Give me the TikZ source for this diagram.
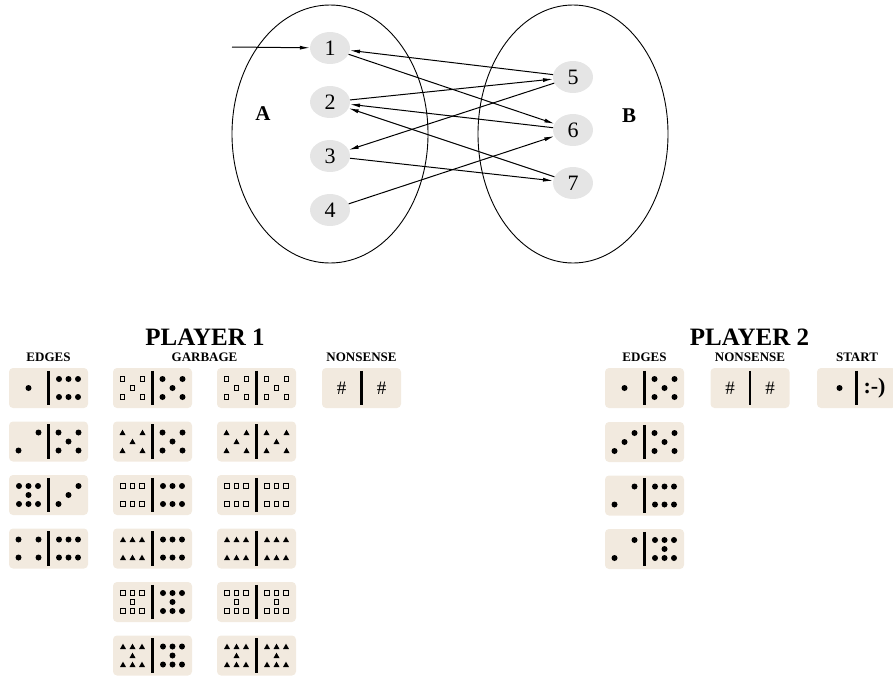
\documentclass[tikz,border=0pt]{standalone}
\usepackage{fontspec}
\setmainfont{Liberation Serif}
\usetikzlibrary{shapes.geometric,arrows.meta}

\definecolor{tilebg}{RGB}{242,234,223}
\definecolor{vertbg}{RGB}{229,229,229}

\def\patOne{0/0}
\def\patTwo{10/-9,-10/9}
\def\patThree{-10/9,0/0,10/-9}
\def\patFour{-10/-9,10/-9,-10/9,10/9}
\def\patFive{-10/-9,10/-9,0/0,-10/9,10/9}
\def\patSix{-9.5/-9,0/-9,9.5/-9,-9.5/9,0/9,9.5/9}
\def\patSeven{-9.5/-9,0/-9,9.5/-9,0/0,-9.5/9,0/9,9.5/9}

\newcommand{\domino}[2]{%
    \node
        [tile] (#1) at (#2) {};
    \draw
        [divider] ([yshift=-3pt]#1.north) -- ([yshift=3pt]#1.south);
}
\newcommand{\face}[4]{%
    \edef\curpat{\csname pat#4\endcsname}%
    \foreach \dx/\dy in \curpat {\path (#1) ++({#2+(\dx)},\dy) pic {#3};}%
}

\tikzset{
    set/.style={ellipse, draw, line width=0.9pt, minimum width=196, minimum height=258, inner sep=0},
    vert/.style={ellipse, fill=vertbg, minimum width=40, minimum height=32, inner sep=0, font=\fontsize{22}{22}\selectfont},
    setname/.style={font=\bfseries\fontsize{21}{21}\selectfont, inner sep=0},
    arr/.style={-{Latex[length=10pt,width=4pt]}, line width=1pt},
    tile/.style={rectangle, rounded corners=4pt, fill=tilebg, minimum width=79, minimum height=40, inner sep=0},
    divider/.style={line width=2.2pt},
    title/.style={font=\bfseries\fontsize{25}{25}\selectfont, inner sep=0},
    head/.style={font=\bfseries\fontsize{13}{13}\selectfont, inner sep=0},
    glyph/.style={font=\fontsize{19}{19}\selectfont, inner sep=0},
    pipdot/.pic={\fill (0,0) circle (3);},
    pipbox/.pic={\draw[line width=1.3pt] (-2.3,-2.3) rectangle (2.3,2.3);},
    piptri/.pic={\fill (-3,2.5) -- (3,2.5) -- (0,-2.8) -- cycle;},
}

\begin{document}
\begin{tikzpicture}[x=1pt, y=-1pt]
    \useasboundingbox (0,0) rectangle (893,675);

    \node
        [set] (setA) at (330,134) {};
    \node
        [set, minimum width=190] (setB) at (573,134) {};
    \node
        [setname] (lblA) at (263,114) {A};
    \node
        [setname] (lblB) at (629,116) {B};

    \foreach \n/\y in {1/48, 2/102, 3/156, 4/210}
        \node [vert] (v\n) at (330,\y) {\n};
    \foreach \n/\y in {5/77, 6/130, 7/183}
        \node [vert] (v\n) at (573,\y) {\n};

    \coordinate (start) at (232,47);
    \draw [arr] (start) -- (v1);
    \draw [arr] (v5) -- (v1);
    \draw [arr] (v1) -- (v6);
    \draw [arr] (v2) -- (v5);
    \draw [arr] (v5) -- (v3);
    \draw [arr] (v6) -- (v2);
    \draw [arr] (v7) -- (v2);
    \draw [arr] (v3) -- (v7);
    \draw [arr] (v4) -- (v6);

    \node
        [title] (pl1) at (205,337.5) {PLAYER 1};
    \node
        [title] (pl2) at (749.5,337.5) {PLAYER 2};
    \node
        [head] (edges1) at (48.5,357) {EDGES};
    \node
        [head] (garbage1) at (204.5,357) {GARBAGE};
    \node
        [head] (nons1) at (361.5,357) {NONSENSE};
    \node
        [head] (edges2) at (644.5,357) {EDGES};
    \node
        [head] (nons2) at (750,357) {NONSENSE};
    \node
        [head] (start2) at (857,357) {START};

    \domino{pa1}{48.5,388}
    \face{pa1}{-20}{pipdot}{One}
    \face{pa1}{20}{pipdot}{Six}
    \domino{pa2}{48.5,441.5}
    \face{pa2}{-20}{pipdot}{Two}
    \face{pa2}{20}{pipdot}{Five}
    \domino{pa3}{48.5,495}
    \face{pa3}{-20}{pipdot}{Seven}
    \face{pa3}{20}{pipdot}{Three}
    \domino{pa4}{48.5,548.5}
    \face{pa4}{-20}{pipdot}{Four}
    \face{pa4}{20}{pipdot}{Six}

    \foreach \r/\y/\p in {1/388/Five, 3/495/Six, 5/602/Seven} {
        \domino{ga\r}{152.5,\y}
        \face{ga\r}{-20}{pipbox}{\p}
        \face{ga\r}{20}{pipdot}{\p}
        \domino{gb\r}{256.5,\y}
        \face{gb\r}{-20}{pipbox}{\p}
        \face{gb\r}{20}{pipbox}{\p}
    }
    \foreach \r/\y/\p in {2/441.5/Five, 4/548.5/Six, 6/655.5/Seven} {
        \domino{ga\r}{152.5,\y}
        \face{ga\r}{-20}{piptri}{\p}
        \face{ga\r}{20}{pipdot}{\p}
        \domino{gb\r}{256.5,\y}
        \face{gb\r}{-20}{piptri}{\p}
        \face{gb\r}{20}{piptri}{\p}
    }

    \domino{na}{361.5,388}
    \node
        [glyph] (na-l) at ([xshift=-20pt]na.center) {\#};
    \node
        [glyph] (na-r) at ([xshift=20pt]na.center) {\#};

    \domino{pb1}{644.5,388}
    \face{pb1}{-20}{pipdot}{One}
    \face{pb1}{20}{pipdot}{Five}
    \domino{pb2}{644.5,442}
    \face{pb2}{-20}{pipdot}{Three}
    \face{pb2}{20}{pipdot}{Five}
    \domino{pb3}{644.5,495.5}
    \face{pb3}{-20}{pipdot}{Two}
    \face{pb3}{20}{pipdot}{Six}
    \domino{pb4}{644.5,549}
    \face{pb4}{-20}{pipdot}{Two}
    \face{pb4}{20}{pipdot}{Seven}

    \domino{nb}{750,388}
    \node
        [glyph] (nb-l) at ([xshift=-20pt]nb.center) {\#};
    \node
        [glyph] (nb-r) at ([xshift=20pt]nb.center) {\#};

    \domino{st}{856.5,388}
    \face{st}{-17}{pipdot}{One}
    \node
        [glyph, font=\bfseries\fontsize{22}{22}\selectfont] (st-r) at ([xshift=18pt]st.center) {:-)};
\end{tikzpicture}
\end{document}
